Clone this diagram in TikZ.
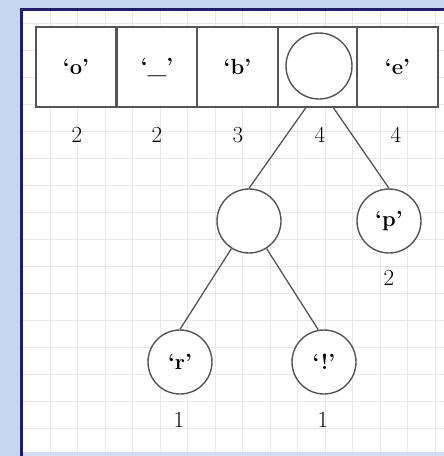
\documentclass[tikz,border=0pt]{standalone}
\usetikzlibrary{backgrounds}
\definecolor{bgblue}{RGB}{198,214,240}
\definecolor{navy}{RGB}{30,30,105}
\definecolor{gridc}{RGB}{232,232,234}
\definecolor{edgec}{RGB}{85,85,85}
\pgfdeclarelayer{bg}
\pgfsetlayers{bg,main}
\tikzset{
  cellbox/.style={draw=edgec, line width=1.6pt, fill=white, minimum width=80.5pt, minimum height=80pt, inner sep=0pt, outer sep=0pt},
  treenode/.style={circle, draw=edgec, line width=1.4pt, fill=white, minimum size=64pt, inner sep=0pt},
  lbl/.style={font=\fontsize{22}{26}\selectfont\bfseries},
  cnt/.style={font=\fontsize{23}{27}\selectfont, inner sep=0pt},
  edge/.style={draw=edgec, line width=1.3pt}
}
\begin{document}
\begin{tikzpicture}[x=1pt,y=-1pt]
\useasboundingbox (0,0) rectangle (444,456);
\begin{pgfonlayer}{bg}
  \fill[bgblue] (0,0) rectangle (444,456);
  \fill[white] (21,8) rectangle (444,452);
  \foreach \gx in {50,77.5,105,132.5,160,187.5,215,242.5,270,297.5,325,352.5,380,407.5,435}
    \draw[gridc, line width=0.8pt] (\gx,10) -- (\gx,452);
  \foreach \gy in {23,50,77,104,131,158,185,212,239,266,293,320,347,374,401,428}
    \draw[gridc, line width=0.8pt] (23,\gy) -- (444,\gy);
  \fill[bgblue!80!white] (23,452) rectangle (444,456);
  \draw[navy, line width=3pt] (21.5,456) -- (21.5,9.5) -- (444,9.5);
\end{pgfonlayer}

% array cells
\node[cellbox, lbl] (a1) at (76,67) {`o'};
\node[cellbox, lbl] (a2) at (157,67) {`\_'};
\node[cellbox, lbl] (a3) at (237.5,67) {`b'};
\node[cellbox] (a4) at (318,67) {};
\node[cellbox, lbl] (a5) at (397.5,67) {`e'};
\node[circle, draw=edgec, line width=1.4pt, fill=white, minimum size=66pt, inner sep=0pt] (c4) at (319,66) {};

% counts under cells
\node[cnt] (k1) at (77,135) {2};
\node[cnt] (k2) at (157,135) {2};
\node[cnt] (k3) at (238,135) {3};
\node[cnt] (k4) at (320,135) {4};
\node[cnt] (k5) at (396,135) {4};

% tree
\node[treenode] (n1) at (249,221) {};
\node[treenode, lbl] (p) at (389,221) {`p'};
\node[cnt] (kp) at (389,278) {2};
\node[treenode, lbl] (r) at (180,362) {`r'};
\node[treenode, lbl] (l) at (324,362) {`!'};
\node[cnt] (kr) at (179,420) {1};
\node[cnt] (kl) at (323,420) {1};

\begin{pgfonlayer}{bg}
  \draw[edge] (c4.258) -- (n1.north);
  \draw[edge] (c4.284) -- (p.north);
\end{pgfonlayer}
\draw[edge] (n1) -- (r.north);
\draw[edge] (n1) -- (l.100);
\end{tikzpicture}
\end{document}
